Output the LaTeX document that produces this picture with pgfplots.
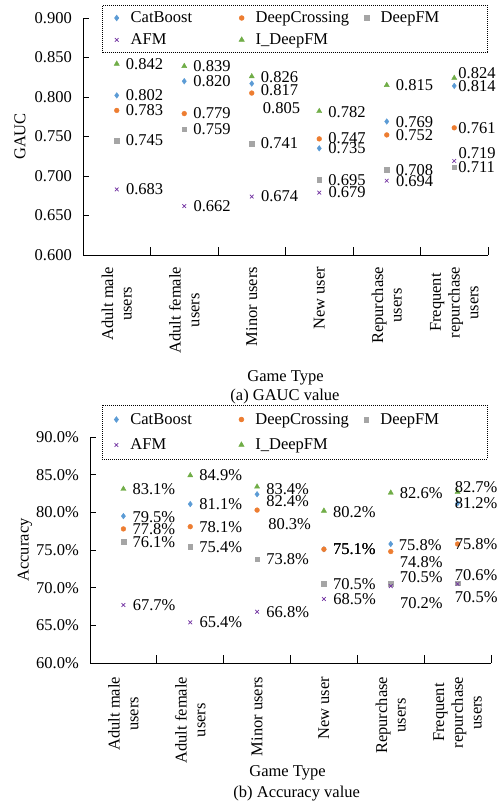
\documentclass[border=0pt]{standalone}
\usepackage{fontspec}
\setmainfont{Liberation Serif}
\usepackage{pgfplots}
\usepackage{pgfplotstable}
\pgfplotsset{compat=1.18}
\definecolor{cb}{HTML}{5B9BD5}
\definecolor{dc}{HTML}{ED7D31}
\definecolor{dfm}{HTML}{A5A5A5}
\definecolor{afm}{HTML}{7030A0}
\definecolor{idf}{HTML}{70AD47}
\newcommand{\lt}[1]{\makebox[97bp][l]{#1}}

% GAUC tables: x, value, label y-offset (bp), label x-offset (bp)
\pgfplotstableread{
x y dy dx
0 0.802 0 9
1 0.820 0 9
2 0.817 -7 9
3 0.735 0 9
4 0.769 -1 9
5 0.814 0 4
}\gcb
\pgfplotstableread{
x y dy dx
0 0.783 0 9
1 0.779 0 9
2 0.805 -14.6 11
3 0.747 1 9
4 0.752 0 9
5 0.761 0 4
}\gdc
\pgfplotstableread{
x y dy dx
0 0.745 0 9
1 0.759 0 9
2 0.741 0 9
3 0.695 0 9
4 0.708 0 9
5 0.711 0 4
}\gdfm
\pgfplotstableread{
x y dy dx
0 0.683 0 9
1 0.662 0 9
2 0.674 0 9
3 0.679 0 9
4 0.694 0 9
5 0.719 7.4 4
}\gafm
\pgfplotstableread{
x y dy dx
0 0.842 0 9
1 0.839 0 9
2 0.826 -1 9
3 0.782 -1 9
4 0.815 0 9
5 0.824 4.6 4
}\gidf

% Accuracy tables (percent)
\pgfplotstableread{
x y dy dx
0 79.5 -1 9
1 81.1 0 9
2 82.4 -6.7 9
3 75.1 0 9
4 75.8 -1 8
5 81.2 0 -3
}\acb
\pgfplotstableread{
x y dy dx
0 77.8 0 9
1 78.1 0 9
2 80.3 -14 11
3 75.1 0 9
4 74.8 -11 9
5 75.8 0 -3
}\adc
\pgfplotstableread{
x y dy dx
0 76.1 0 9
1 75.4 0 9
2 73.8 0 9
3 70.5 0 9
4 70.5 6.6 9
5 70.6 8.3 -3
}\adfm
\pgfplotstableread{
x y dy dx
0 67.7 0 9
1 65.4 0 9
2 66.8 0 9
3 68.5 0 9
4 70.2 -16.7 9
5 70.5 -13.4 -3
}\aafm
\pgfplotstableread{
x y dy dx
0 83.1 0 9
1 84.9 0 9
2 83.4 -2.7 9
3 80.2 -1.3 9
4 82.6 0 9
5 82.7 4.4 -3
}\aidf

\pgfplotsset{
  mychart/.style={
    scale only axis,
    clip=false,
    xmin=-0.5, xmax=5.5,
    axis x line*=bottom, axis y line*=left,
    axis line style={black, line width=0.8bp, -},
    tick align=inside,
    major tick length=6bp,
    minor tick length=8bp,
    xtick={0,...,5},
    xticklabels={{Adult male\\users},{Adult female\\users},{Minor users},{New user},{Repurchase\\users},{Frequent\\repurchase\\users}},
    major x tick style={draw=none},
    minor xtick={0.5,1.5,2.5,3.5,4.5,5.5},
    minor x tick style={black, line width=0.8bp},
    major y tick style={black, line width=0.8bp},
    xticklabel style={rotate=90, anchor=east, align=center, inner sep=0pt},
    yticklabel style={inner sep=0pt},
    yticklabel shift=11bp,
    /pgf/number format/assume math mode=true,
    legend columns=3,
    legend cell align=left,
    legend image code/.code={\path[draw=none,fill=none] (-9bp,0bp) -- (9bp,0bp); \draw[#1] plot coordinates {(0bp,0bp)};},
    legend style={draw=black, dash pattern=on 1bp off 1bp, line width=0.6bp,
      inner xsep=5bp, inner ysep=4.5bp, row sep=5.5bp,
      nodes={inner xsep=5bp, inner ysep=2bp, solid}},
    every axis plot/.append style={only marks, mark options={solid}},
    visualization depends on={\thisrow{dx} \as \offx},
    visualization depends on={\thisrow{dy} \as \offy},
    nodes near coords style={anchor=west, inner sep=0pt, xshift=\offx*1bp, yshift=\offy*1bp, text=black},
    point meta=y,
  },
  pcb/.style={cb, mark=diamond*, mark size=2.8bp, mark options={fill=cb, draw=cb}},
  pdc/.style={dc, mark=*, mark size=2.4bp, mark options={fill=dc, draw=dc}},
  pdfm/.style={dfm, mark=square*, mark size=2.3bp, mark options={fill=dfm, draw=dfm}},
  pafm/.style={afm, mark=x, mark size=2.6bp, mark options={draw=afm, line width=0.7bp}},
  pidf/.style={idf, mark=triangle*, mark size=3bp, mark options={fill=idf, draw=idf}},
}

\begin{document}
\begin{tikzpicture}[font=\fontsize{16.5bp}{18.7bp}\selectfont]
\path[use as bounding box] (0,0) rectangle (498bp,-806bp);

% ---------- (a) GAUC ----------
\begin{axis}[mychart,
  at={(83bp,-255bp)}, anchor=south west,
  width=405bp, height=237bp,
  ymin=0.6, ymax=0.9,
  ytick={0.6,0.65,0.7,0.75,0.8,0.85,0.9},
  yticklabel={\pgfmathprintnumber[fixed,fixed zerofill,precision=3]{\tick}},
  xticklabel shift=11.7bp,
  ylabel={GAUC},
  every axis y label/.style={at={(axis description cs:-0.1556,0.5)}, rotate=90, anchor=center},
  xlabel={Game Type},
  every axis x label/.style={at={(axis description cs:0.5,-0.519)}, anchor=center},
  legend style={at={(axis description cs:1,1.0549)}, anchor=north east},
  nodes near coords={\pgfmathprintnumber[fixed,fixed zerofill,precision=3]{\pgfplotspointmeta}},
]
\addplot[pcb] table[x=x,y=y]{\gcb};
\addlegendentry{\lt{CatBoost}}
\addplot[pdc] table[x=x,y=y]{\gdc};
\addlegendentry{\lt{DeepCrossing}}
\addplot[pdfm] table[x=x,y=y]{\gdfm};
\addlegendentry{\lt{DeepFM}}
\addplot[pafm] table[x=x,y=y]{\gafm};
\addlegendentry{\lt{AFM}}
\addplot[pidf] table[x=x,y=y]{\gidf};
\addlegendentry{\lt{I\_DeepFM}}
\end{axis}
\node[anchor=center] at (285bp,-396.7bp) {(a) GAUC value};

% ---------- (b) Accuracy ----------
\begin{axis}[mychart,
  at={(90bp,-663bp)}, anchor=south west,
  width=401bp, height=226bp,
  ymin=60, ymax=90,
  ytick={60,65,70,75,80,85,90},
  yticklabel={\pgfmathprintnumber[fixed,fixed zerofill,precision=1]{\tick}\%},
  xticklabel shift=13.7bp,
  ylabel={Accuracy},
  every axis y label/.style={at={(axis description cs:-0.162,0.5)}, rotate=90, anchor=center},
  xlabel={Game Type},
  every axis x label/.style={at={(axis description cs:0.4925,-0.487)}, anchor=center},
  legend style={at={(axis description cs:0.9918,1.1416)}, anchor=north east, inner ysep=6bp, row sep=9bp},
  nodes near coords={\pgfmathprintnumber[fixed,fixed zerofill,precision=1]{\pgfplotspointmeta}\%},
]
\addplot[pcb] table[x=x,y=y]{\acb};
\addlegendentry{\lt{CatBoost}}
\addplot[pdc] table[x=x,y=y]{\adc};
\addlegendentry{\lt{DeepCrossing}}
\addplot[pdfm] table[x=x,y=y]{\adfm};
\addlegendentry{\lt{DeepFM}}
\addplot[pafm] table[x=x,y=y]{\aafm};
\addlegendentry{\lt{AFM}}
\addplot[pidf] table[x=x,y=y]{\aidf};
\addlegendentry{\lt{I\_DeepFM}}
\end{axis}
\node[anchor=center] at (296.7bp,-794bp) {(b) Accuracy value};
\end{tikzpicture}
\end{document}
